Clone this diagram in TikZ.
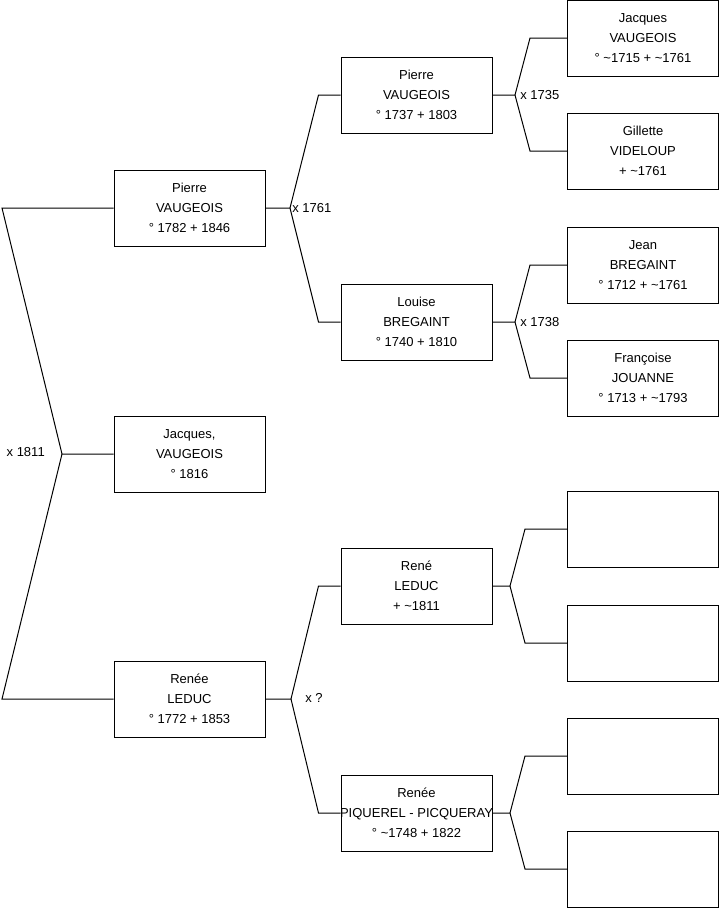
\documentclass[tikz,border=0pt]{standalone}
\usepackage{fontspec}
\setmainfont{Liberation Sans}
\usetikzlibrary{positioning}

\tikzset{
  person/.style={draw, line width=0.75pt, minimum width=113.25pt, minimum height=57pt,
    inner sep=0pt, align=center, font=\fontsize{9.75}{15}\selectfont},
  union/.style={inner sep=1.5pt, font=\fontsize{9.75}{15}\selectfont},
  branch/.style={line width=0.75pt},
}

\begin{document}
\begin{tikzpicture}[x=0.75pt, y=-0.75pt]
\useasboundingbox (0,0) rectangle (719,908);
% generation 1: the couple and their son
\node[person] (p1) at (189.5,208) {Pierre\\VAUGEOIS\\° 1782 + 1846};
\node[person] (j1) at (189.5,454) {Jacques,\\VAUGEOIS\\° 1816};
\node[person] (r1) at (189.5,699) {Renée\\LEDUC\\° 1772 + 1853};
% generation 2: parents
\node[person] (p2) at (416.5,95) {Pierre\\VAUGEOIS\\° 1737 + 1803};
\node[person] (l2) at (416.5,322) {Louise\\BREGAINT\\° 1740 + 1810};
\node[person] (r2) at (416.5,586) {René\\LEDUC\\+ \textasciitilde1811};
\node[person] (q2) at (416.5,813) {Renée\\\makebox[0pt]{PIQUEREL - PICQUERAY}\\° \textasciitilde1748 + 1822};
% generation 3: grandparents
\node[person] (g1) at (643,38) {Jacques\\VAUGEOIS\\° \textasciitilde1715 + \textasciitilde1761};
\node[person] (g2) at (643,151) {Gillette\\VIDELOUP\\+ \textasciitilde1761};
\node[person] (g3) at (643,265) {Jean\\BREGAINT\\° 1712 + \textasciitilde1761};
\node[person] (g4) at (643,378) {Françoise\\JOUANNE\\° 1713 + \textasciitilde1793};
\node[person] (g5) at (643,529) {};
\node[person] (g6) at (643,643) {};
\node[person] (g7) at (643,756) {};
\node[person] (g8) at (643,869) {};
% forks
\coordinate (c0) at (2,208);
\coordinate (c0b) at (2,699);
\coordinate (f0) at (62,454);
\coordinate (f1) at (290,208);
\coordinate (f2) at (515,95);
\coordinate (f3) at (515,322);
\coordinate (f4) at (291,699);
\coordinate (f5) at (510,586);
\coordinate (f6) at (510,813);
% marriages
\node[union, anchor=east] (m0) at (47,452) {x 1811};
\node[union, anchor=west] (m1) at (f1) {x 1761};
\node[union, anchor=west] (m2) at (518,95) {x 1735};
\node[union, anchor=west] (m3) at (518,322) {x 1738};
\node[union, anchor=west] (m4) at (303,698) {x ?};
% connectors
\draw[branch] (p1.west) -- (c0) -- (f0) -- (j1.west);
\draw[branch] (f0) -- (c0b) -- (r1.west);
\draw[branch] (p1.east) -- (f1) -- ([xshift=-16.5pt]p2.west) -- (p2.west);
\draw[branch] (f1) -- ([xshift=-16.5pt]l2.west) -- (l2.west);
\draw[branch] (p2.east) -- (f2) -- ([xshift=-27.75pt]g1.west) -- (g1.west);
\draw[branch] (f2) -- ([xshift=-27.75pt]g2.west) -- (g2.west);
\draw[branch] (l2.east) -- (f3) -- ([xshift=-27.75pt]g3.west) -- (g3.west);
\draw[branch] (f3) -- ([xshift=-27.75pt]g4.west) -- (g4.west);
\draw[branch] (r1.east) -- (f4) -- ([xshift=-16.5pt]r2.west) -- (r2.west);
\draw[branch] (f4) -- ([xshift=-16.5pt]q2.west) -- (q2.west);
\draw[branch] (r2.east) -- (f5) -- ([xshift=-31.5pt]g5.west) -- (g5.west);
\draw[branch] (f5) -- ([xshift=-31.5pt]g6.west) -- (g6.west);
\draw[branch] (q2.east) -- (f6) -- ([xshift=-31.5pt]g7.west) -- (g7.west);
\draw[branch] (f6) -- ([xshift=-31.5pt]g8.west) -- (g8.west);
\end{tikzpicture}
\end{document}
